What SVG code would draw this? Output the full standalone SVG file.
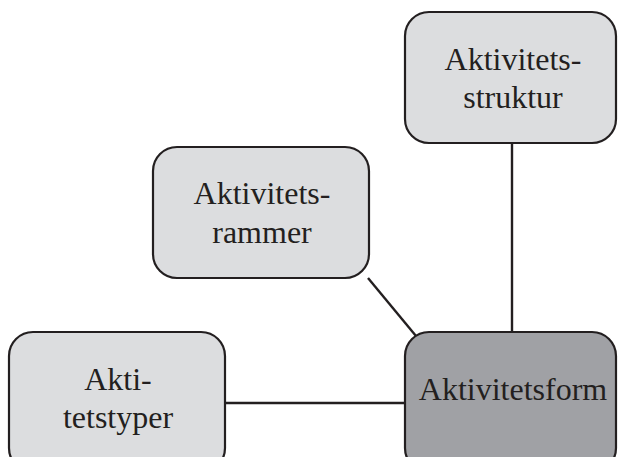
<svg xmlns="http://www.w3.org/2000/svg" width="619" height="457" viewBox="0 0 619 457">
<style>
.box{fill:#dcdddf;stroke:#231f20;stroke-width:2.2}
.dark{fill:#a0a1a5}
.lbl{font-family:"Liberation Serif","Times New Roman",serif;font-size:32px;fill:#231f20;text-anchor:middle}
.conn line{stroke:#231f20;stroke-width:2.4}
</style>
<rect width="619" height="457" fill="#ffffff"/>
<g class="conn" id="connectors">
<line x1="512" y1="143" x2="512" y2="333"/>
<line x1="368" y1="278" x2="416" y2="336"/>
<line x1="225" y1="403" x2="405" y2="403"/>
</g>
<g id="struktur">
<rect class="box" x="405" y="12" width="211" height="131" rx="24"/>
<text class="lbl" x="513" y="70">Aktivitets-</text>
<text class="lbl" x="513" y="108">struktur</text>
</g>
<g id="rammer">
<rect class="box" x="153" y="147" width="216" height="131" rx="24"/>
<text class="lbl" x="262" y="204">Aktivitets-</text>
<text class="lbl" x="262" y="243">rammer</text>
</g>
<g id="typer">
<rect class="box" x="9" y="332" width="216" height="140" rx="24"/>
<text class="lbl" x="118" y="390">Akti-</text>
<text class="lbl" x="118" y="428">tetstyper</text>
</g>
<g id="form">
<rect class="box dark" x="405" y="332" width="211" height="140" rx="24"/>
<text class="lbl" x="513" y="400">Aktivitetsform</text>
</g>
</svg>
